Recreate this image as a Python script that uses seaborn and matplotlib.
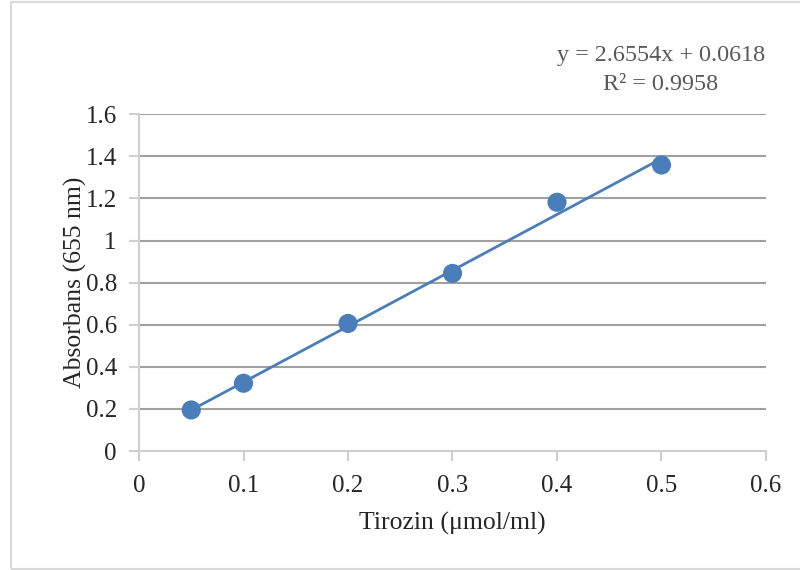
import numpy as np
import pandas as pd
import matplotlib
matplotlib.use("Agg")
import matplotlib.pyplot as plt
from matplotlib.patches import Rectangle
import seaborn as sns

# Tyrosine calibration data
concentration = [0.05, 0.1, 0.2, 0.3, 0.4, 0.5]
absorbance = [0.195, 0.322, 0.606, 0.844, 1.182, 1.359]

# Linear trendline coefficients
slope = 2.6554
intercept = 0.0618
r_squared = 0.9958

x_ticks = [0, 0.1, 0.2, 0.3, 0.4, 0.5, 0.6]
x_tick_labels = ["0", "0.1", "0.2", "0.3", "0.4", "0.5", "0.6"]
y_ticks = [0, 0.2, 0.4, 0.6, 0.8, 1.0, 1.2, 1.4, 1.6]
y_tick_labels = ["0", "0.2", "0.4", "0.6", "0.8", "1", "1.2", "1.4", "1.6"]

sns.set_theme(style="white")
plt.rcParams["font.family"] = ["Liberation Serif", "DejaVu Serif"]

blue = "#4a7ebb"
grid_col = "#a0a0a0"
axis_col = "#cfcfcf"
text_col = "#262626"

df = pd.DataFrame({"x": concentration, "y": absorbance})
x_fit = np.array([min(concentration), max(concentration)])
fit = pd.DataFrame({"x": x_fit, "y": slope * x_fit + intercept})

fig = plt.figure(figsize=(8.0, 5.7), dpi=100)
fig.patches.append(Rectangle((11 / 800, 1 - 569 / 570), 1.2, (569 - 2) / 570,
                             transform=fig.transFigure, facecolor="none",
                             edgecolor="#d9d9d9", linewidth=1.5, zorder=-1))
ax = fig.add_axes([139 / 800, 1 - 451 / 570, (766 - 139) / 800, (451 - 114.3) / 570])
ax.set_facecolor("none")

sns.lineplot(data=fit, x="x", y="y", ax=ax, color=blue, linewidth=2, zorder=3)
sns.scatterplot(data=df, x="x", y="y", ax=ax, color=blue, s=190,
                edgecolor="none", zorder=4)

ax.set_xlim(0, 0.6)
ax.set_ylim(0, 1.6)
ax.set_xticks(x_ticks)
ax.set_xticklabels(x_tick_labels)
ax.set_yticks(y_ticks)
ax.set_yticklabels(y_tick_labels)

for y in y_ticks[1:]:
    ax.axhline(y, color=grid_col, linewidth=1.5, zorder=1)

for side in ["top", "right"]:
    ax.spines[side].set_visible(False)
for side in ["left", "bottom"]:
    ax.spines[side].set_color(axis_col)
    ax.spines[side].set_linewidth(1.5)

ax.tick_params(axis="both", which="major", direction="out", length=7, width=1.5,
               color=axis_col, labelsize=18, labelcolor=text_col, pad=9,
               left=True, bottom=True)
ax.tick_params(axis="x", pad=10)

ax.set_xlabel("Tirozin (\u03bcmol/ml)", fontsize=18.5, color=text_col, labelpad=11)
ax.set_ylabel("Absorbans (655 nm)", fontsize=18.5, color=text_col, labelpad=-1)

fig.text(661 / 800, 1 - 56 / 570, f"y = {slope:.4f}x + {intercept:.4f}",
         ha="center", va="center", fontsize=17.4, color="#595959")
fig.text(661 / 800, 1 - 84 / 570, f"R\u00b2 = {r_squared:.4f}",
         ha="center", va="center", fontsize=17.4, color="#595959")

fig.savefig("out.png", dpi=100)
